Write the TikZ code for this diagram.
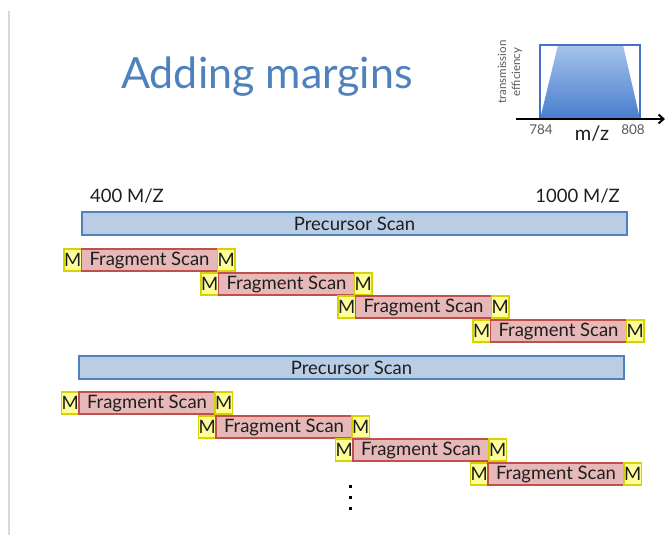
\documentclass[tikz,border=0pt]{standalone}
\usepackage{fontspec}
\setmainfont{Lato}
\usetikzlibrary{arrows.meta}
\definecolor{tblue}{RGB}{79,129,189}
\definecolor{pfill}{RGB}{185,205,229}
\definecolor{pline}{RGB}{79,129,189}
\definecolor{ffill}{RGB}{230,185,184}
\definecolor{fline}{RGB}{192,80,77}
\definecolor{mfill}{RGB}{255,255,153}
\definecolor{mline}{RGB}{215,210,0}
\definecolor{gline}{RGB}{217,217,217}
\definecolor{gtop}{RGB}{165,195,236}
\definecolor{gbot}{RGB}{72,125,205}
\definecolor{ibox}{RGB}{68,114,196}
\definecolor{txt}{RGB}{30,30,30}
\tikzset{
  mbox/.style={draw=mline, fill=mfill, line width=1.8pt, minimum width=17.5pt, minimum height=22pt, inner sep=0pt, outer sep=0pt, text=txt, font=\fontsize{18.5}{18.5}\selectfont},
  fragbox/.style={draw=fline, fill=ffill, line width=1.8pt, minimum width=136pt, minimum height=22pt, inner sep=0pt, outer sep=0pt, text=txt, font=\fontsize{18.5}{18.5}\selectfont},
  precbox/.style={draw=pline, fill=pfill, line width=1.6pt, minimum width=545pt, minimum height=23pt, inner sep=0pt, outer sep=0pt, text=txt, font=\fontsize{18.5}{18.5}\selectfont},
  lbl/.style={inner sep=0pt, text=txt, font=\fontsize{18.5}{18.5}\selectfont},
  small/.style={inner sep=0pt, text=black!65, font=\fontsize{13.5}{13.5}\selectfont},
  dotmark/.style={fill=black, minimum size=3pt, inner sep=0pt, outer sep=0pt}
}
\newcommand{\fragrow}[3]{%
  \node[mbox, anchor=west] (#1a) at (#2,#3) {M};
  \node[fragbox, anchor=west] (#1b) at (#1a.east) {Fragment Scan};
  \node[mbox, anchor=west] (#1c) at (#1b.east) {M};
}
\begin{document}
\begin{tikzpicture}[x=1pt,y=-1pt]
\useasboundingbox (0,0) rectangle (666,535);
% left rule
\draw[gline, line width=1.5pt] (9,11) -- (9,535);
% title
\node[inner sep=0pt, text=tblue, font=\fontsize{43}{43}\selectfont] (title) at (267,77) {Adding margins};
% inset
\shade[top color=gtop, bottom color=gbot] (540,119) -- (558,45) -- (623,45) -- (640,119) -- cycle;
\draw[ibox, line width=1.8pt] (540,119) rectangle (640,45);
\coordinate (axs) at (516,119);
\coordinate (axe) at (665,119);
\draw[line width=2pt, -{Straight Barb[length=5pt,width=9pt]}] (axs) -- (axe);
\node[small, rotate=90, align=center, font=\fontsize{11.5}{14}\selectfont] (yl) at (510,72) {transmission\\efficiency};
\node[small] (l784) at (541,129.5) {784};
\node[small] (l808) at (633,129.5) {808};
\node[lbl, font=\fontsize{20}{20}\selectfont] (mz) at (592,134) {m/z};
% range labels
\node[lbl, anchor=west] (l400) at (90,196) {400 M/Z};
\node[lbl, anchor=east] (l1000) at (620,196) {1000 M/Z};
% block 1
\node[precbox, anchor=west] (p1) at (82,223.5) {Precursor Scan};
\fragrow{r1}{64}{260}
\fragrow{r2}{201}{284}
\fragrow{r3}{338}{307}
\fragrow{r4}{473}{331}
% block 2
\node[precbox, anchor=west] (p2) at (79,367.5) {Precursor Scan};
\fragrow{s1}{61.5}{403}
\fragrow{s2}{198.5}{427}
\fragrow{s3}{335.5}{450}
\fragrow{s4}{470.5}{474}
% dots
\node[dotmark] (d1) at (350,486) {};
\node[dotmark] (d2) at (350,497) {};
\node[dotmark] (d3) at (350,508) {};
\end{tikzpicture}
\end{document}
